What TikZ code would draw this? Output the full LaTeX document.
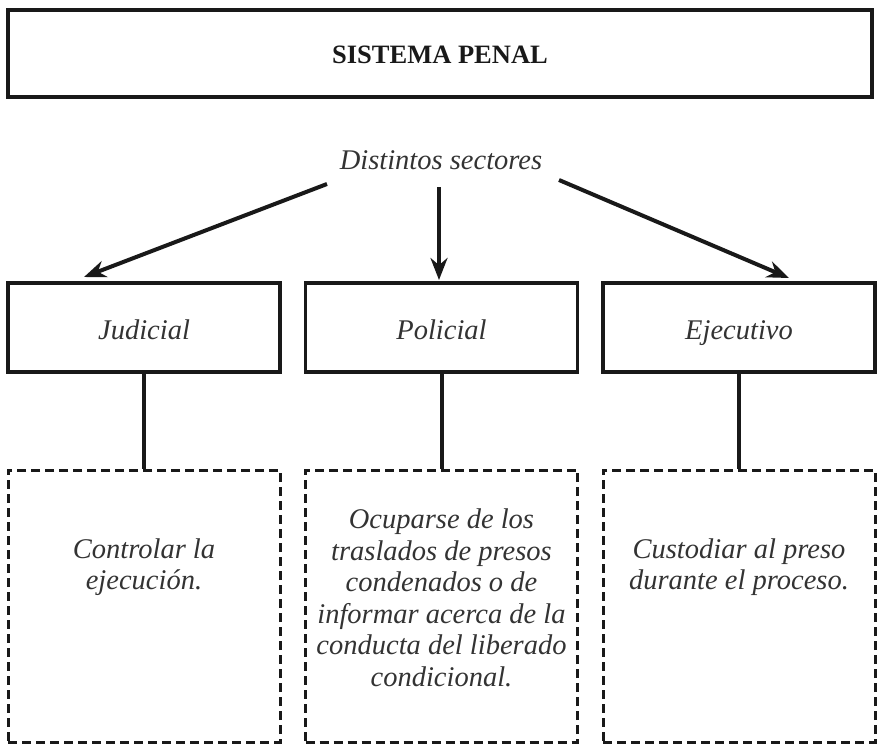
\documentclass[tikz,border=0pt]{standalone}
\usepackage{fontspec}
\setmainfont{Liberation Serif}
\usetikzlibrary{arrows.meta}
\begin{document}
\begin{tikzpicture}[x=1pt,y=-1pt,
  solidbox/.style={draw=black!90,line width=3.2pt,minimum width=272pt,minimum height=89pt,inner sep=0pt},
  dashbox/.style={draw=black!90,line width=3pt,dash pattern=on 9pt off 5pt,minimum width=272pt,minimum height=272pt,inner sep=0pt},
  itext/.style={font=\fontsize{28.5}{31.5}\selectfont\itshape,text=black!80,align=center},
  conn/.style={line width=4pt,draw=black!90},
  arr/.style={line width=4pt,draw=black!90,-{Stealth[length=22pt,width=17pt]}}]
\useasboundingbox (0,0) rectangle (878,744);
\node[draw=black!90,line width=3.2pt,minimum width=864pt,minimum height=87pt,inner sep=0pt] (top) at (440,53.5) {};
\node[font=\fontsize{26.5}{30}\selectfont\bfseries,text=black!90] (title) at (440,55) {SISTEMA PENAL};
\node[itext] (dist) at (441,160) {Distintos sectores};
\node[solidbox] (jud) at (144,327.5) {};
\node[itext,anchor=base] (judt) at (144,339) {Judicial};
\node[solidbox] (pol) at (441.5,327.5) {};
\node[itext,anchor=base] (polt) at (441.5,339) {Policial};
\node[solidbox] (eje) at (739,327.5) {};
\node[itext,anchor=base] (ejet) at (739,339) {Ejecutivo};
\node[dashbox] (jd) at (144,606) {};
\node[dashbox] (pd) at (441.5,606) {};
\node[dashbox] (ed) at (739,606) {};
\node[itext] (jdt) at (144,567) {Controlar la\\ejecución.};
\node[itext] (pdt) at (441.5,598) {Ocuparse de los\\traslados de presos\\condenados o de\\informar acerca de la\\conducta del liberado\\condicional.};
\node[itext] (edt) at (739,567) {Custodiar al preso\\durante el proceso.};
\coordinate (s1) at (327,184);
\coordinate (e1) at (84,277);
\coordinate (s2) at (439,187);
\coordinate (e2) at (439,280);
\coordinate (s3) at (559,180);
\coordinate (e3) at (789,278);
\draw[arr] (s1) -- (e1);
\draw[arr] (s2) -- (e2);
\draw[arr] (s3) -- (e3);
\draw[conn] (jud.south) -- (jd.north);
\draw[conn] (pol.south) -- (pd.north);
\draw[conn] (eje.south) -- (ed.north);
\end{tikzpicture}
\end{document}
